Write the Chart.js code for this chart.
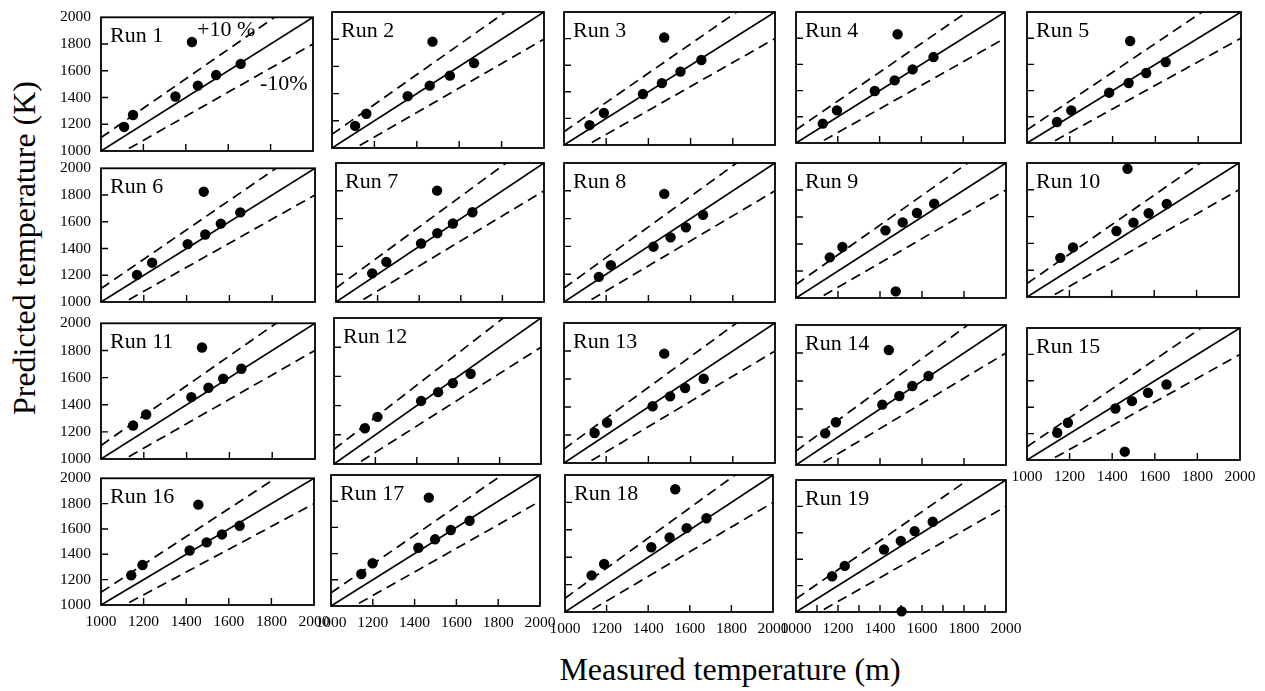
<!DOCTYPE html>
<html>
<head>
<meta charset="utf-8">
<script src="https://cdn.jsdelivr.net/npm/chart.js@4.4.1/dist/chart.umd.min.js"></script>
<style>
html,body{margin:0;padding:0;background:#fff;}
#wrap{position:relative;width:1265px;height:691px;overflow:hidden;background:#fff;}
#wrap canvas{position:absolute;}
.axis-title{position:absolute;font-family:'Liberation Serif','Times New Roman',serif;font-size:32px;line-height:32px;color:#000;white-space:nowrap;}
</style>
</head>
<body>
<div id="wrap">
  <div class="axis-title" id="ytitle">Predicted temperature (K)</div>
  <div class="axis-title" id="xtitle">Measured temperature (m)</div>
</div>
<script>
// ---------- data ----------
const runLabels = ['Run 1','Run 2','Run 3','Run 4','Run 5','Run 6','Run 7','Run 8','Run 9','Run 10',
  'Run 11','Run 12','Run 13','Run 14','Run 15','Run 16','Run 17','Run 18','Run 19'];

const run1Measured  = [1109,1151,1351,1429,1457,1543,1659];
const run1Predicted = [1180,1269,1408,1815,1489,1568,1652];
const run2Measured  = [1109,1162,1357,1474,1461,1556,1670];
const run2Predicted = [1163,1252,1381,1782,1459,1532,1624];
const run3Measured  = [1121,1189,1374,1475,1464,1552,1651];
const run3Predicted = [1149,1241,1383,1808,1465,1552,1639];
const run4Measured  = [1128,1196,1377,1486,1472,1558,1658];
const run4Predicted = [1148,1249,1397,1830,1478,1562,1656];
const run5Measured  = [1140,1207,1384,1482,1475,1557,1648];
const run5Predicted = [1160,1249,1384,1779,1458,1534,1618];
const run6Measured  = [1168,1239,1405,1480,1487,1560,1651];
const run6Predicted = [1203,1294,1433,1825,1505,1586,1670];
const run7Measured  = [1174,1242,1409,1486,1487,1562,1656];
const run7Predicted = [1206,1289,1421,1801,1495,1565,1646];
const run8Measured  = [1165,1222,1424,1475,1505,1578,1659];
const run8Predicted = [1181,1265,1398,1778,1465,1537,1627];
const run9Measured  = [1161,1221,1426,1475,1508,1576,1658];
const run9Predicted = [1301,1378,1501,1049,1560,1630,1699];
const run10Measured  = [1157,1217,1422,1474,1502,1574,1659];
const run10Predicted = [1292,1370,1492,1957,1555,1625,1695];
const run11Measured  = [1150,1211,1422,1472,1502,1571,1656];
const run11Predicted = [1247,1328,1456,1822,1525,1591,1665];
const run12Measured  = [1149,1210,1421,1503,1574,1660];
const run12Predicted = [1245,1323,1432,1492,1554,1618];
const run13Measured  = [1145,1204,1420,1475,1503,1574,1662];
const run13Predicted = [1214,1288,1405,1781,1476,1536,1602];
const run14Measured  = [1139,1190,1411,1442,1492,1554,1631];
const run14Predicted = [1226,1305,1431,1821,1493,1564,1636];
const run15Measured  = [1142,1192,1415,1459,1493,1568,1655];
const run15Predicted = [1206,1282,1390,1063,1446,1509,1572];
const run16Measured  = [1142,1195,1416,1457,1496,1568,1651];
const run16Predicted = [1235,1316,1430,1792,1494,1557,1625];
const run17Measured  = [1145,1199,1418,1468,1498,1573,1663];
const run17Predicted = [1244,1326,1445,1827,1509,1580,1651];
const run18Measured  = [1128,1188,1415,1530,1503,1585,1680];
const run18Predicted = [1267,1350,1473,1896,1544,1612,1684];
const run19Measured  = [1172,1232,1419,1503,1499,1565,1651];
const run19Predicted = [1271,1349,1473,1005,1539,1613,1684];

const measuredByRun = [run1Measured,run2Measured,run3Measured,run4Measured,run5Measured,run6Measured,
  run7Measured,run8Measured,run9Measured,run10Measured,run11Measured,run12Measured,run13Measured,
  run14Measured,run15Measured,run16Measured,run17Measured,run18Measured,run19Measured];
const predictedByRun = [run1Predicted,run2Predicted,run3Predicted,run4Predicted,run5Predicted,run6Predicted,
  run7Predicted,run8Predicted,run9Predicted,run10Predicted,run11Predicted,run12Predicted,run13Predicted,
  run14Predicted,run15Predicted,run16Predicted,run17Predicted,run18Predicted,run19Predicted];

const axisMin = 1000, axisMax = 2000;
const tickLabels = [1000,1200,1400,1600,1800,2000];
const innerTicks = [1200,1400,1600,1800];
const innerTicksFine = [1100,1200,1300,1400,1500,1600,1700,1800,1900];

// reference lines: y = x, +10 %, -10 %
const parityX = [1000,2000], parityY = [1000,2000];
const plus10X = [1000,2000], plus10Y = [1100,2200];
const minus10X = [1000,2000], minus10Y = [900,1800];

// ---------- layout (panel boxes in page pixels: left, top, right, bottom) ----------
const panelBoxes = [
  [101,12,313,151],[332,12,544,148],[564,12,775,145],[796,12,1005,143],[1027,12,1241,143],
  [101,163,315,302],[336,163,544,302],[564,163,775,302],[796,163,1006,298],[1027,163,1239,297],
  [101,318,315,459],[334,318,541,464],[564,323,775,463],[796,325,1006,465],[1027,328,1240,460],
  [101,473,314,605],[331,475,540,606],[565,475,773,612],[796,480,1006,612]
];
const FONT = "'Liberation Serif','Times New Roman',serif";

const framePlugin = {
  id: 'frame',
  afterDatasetsDraw(chart, args, opts) {
    const {ctx, chartArea, scales} = chart;
    const {left, top, right, bottom} = chartArea;
    ctx.save();
    ctx.strokeStyle = '#000';
    ctx.lineWidth = 1.4;
    ctx.beginPath();
    for (const v of opts.xTicks) {
      const px = scales.x.getPixelForValue(v);
      ctx.moveTo(px, bottom); ctx.lineTo(px, bottom - 7);
    }
    for (const v of opts.yTicks) {
      const py = scales.y.getPixelForValue(v);
      ctx.moveTo(left, py); ctx.lineTo(left + 7, py);
    }
    ctx.stroke();
    ctx.lineWidth = 1.8;
    ctx.strokeRect(left, top, right - left, bottom - top);
    ctx.fillStyle = '#000';
    ctx.textAlign = 'left';
    ctx.textBaseline = 'alphabetic';
    ctx.font = '22px ' + FONT;
    ctx.fillText(opts.label, left + 9, top + 25);
    for (const n of (opts.notes || [])) ctx.fillText(n.text, left + n.dx, top + n.dy);
    ctx.restore();
  }
};

const wrap = document.getElementById('wrap');
const padL = 65, padR = 25, padT = 14, padB = 34;
const yAxisW = 55, xAxisH = 30;
const plainLabel = v => String(v);

panelBoxes.forEach((box, i) => {
  const [l, t, r, b] = box;
  const showY = (i % 5) === 0;
  const showX = i >= 14;
  const cv = document.createElement('canvas');
  const w = (r - l) + padL + padR, h = (b - t) + padT + padB;
  cv.width = w; cv.height = h;
  cv.style.left = (l - padL) + 'px';
  cv.style.top = (t - padT) + 'px';
  cv.style.width = w + 'px'; cv.style.height = h + 'px';
  wrap.appendChild(cv);

  const pts = measuredByRun[i].map((m, k) => ({x: m, y: predictedByRun[i][k]}));
  const line = (xs, ys) => xs.map((xv, k) => ({x: xv, y: ys[k]}));
  const lineDs = (data, dash) => ({
    data, showLine: true, pointRadius: 0, borderColor: '#000', borderWidth: 1.7,
    borderDash: dash, fill: false, tension: 0
  });

  new Chart(cv, {
    type: 'scatter',
    data: {
      datasets: [
        lineDs(line(parityX, parityY), []),
        lineDs(line(plus10X, plus10Y), [10, 6]),
        lineDs(line(minus10X, minus10Y), [10, 6]),
        {data: pts, pointRadius: 5.2, pointHoverRadius: 5.2, backgroundColor: '#000',
         borderWidth: 0, clip: false}
      ]
    },
    options: {
      responsive: false, animation: false, devicePixelRatio: 1,
      events: [],
      layout: {autoPadding: false,
               padding: {left: padL - yAxisW, right: padR, top: padT, bottom: padB - xAxisH}},
      plugins: {
        legend: {display: false}, tooltip: {enabled: false},
        frame: {
          label: runLabels[i],
          xTicks: i === 18 ? innerTicksFine : innerTicks,
          yTicks: innerTicks,
          notes: i === 0 ? [{text: '+10 %', dx: 96, dy: 19}, {text: '-10%', dx: 159, dy: 73}] : []
        }
      },
      scales: {
        x: {
          type: 'linear', position: 'bottom', min: axisMin, max: axisMax,
          grid: {display: false, drawTicks: false, tickLength: 0}, border: {display: false},
          ticks: {display: showX, autoSkip: false, maxRotation: 0, minRotation: 0, padding: 8, color: '#000',
                  font: {family: FONT, size: 15.5}, callback: plainLabel},
          afterBuildTicks: s => { s.ticks = tickLabels.map(v => ({value: v})); },
          afterFit: s => { s.height = xAxisH; }
        },
        y: {
          type: 'linear', position: 'left', min: axisMin, max: axisMax,
          grid: {display: false, drawTicks: false, tickLength: 0}, border: {display: false},
          ticks: {display: showY, autoSkip: false, padding: 10, color: '#000',
                  font: {family: FONT, size: 15.5}, callback: plainLabel},
          afterBuildTicks: s => { s.ticks = tickLabels.map(v => ({value: v})); },
          afterFit: s => { s.width = yAxisW; }
        }
      }
    },
    plugins: [framePlugin]
  });
});

// axis titles
const yt = document.getElementById('ytitle');
yt.style.left = '24px'; yt.style.top = '248px';
yt.style.transform = 'translate(-50%,-50%) rotate(-90deg)';
const xt = document.getElementById('xtitle');
xt.style.left = '730px'; xt.style.top = '653px';
xt.style.transform = 'translateX(-50%)';
</script>
</body>
</html>
